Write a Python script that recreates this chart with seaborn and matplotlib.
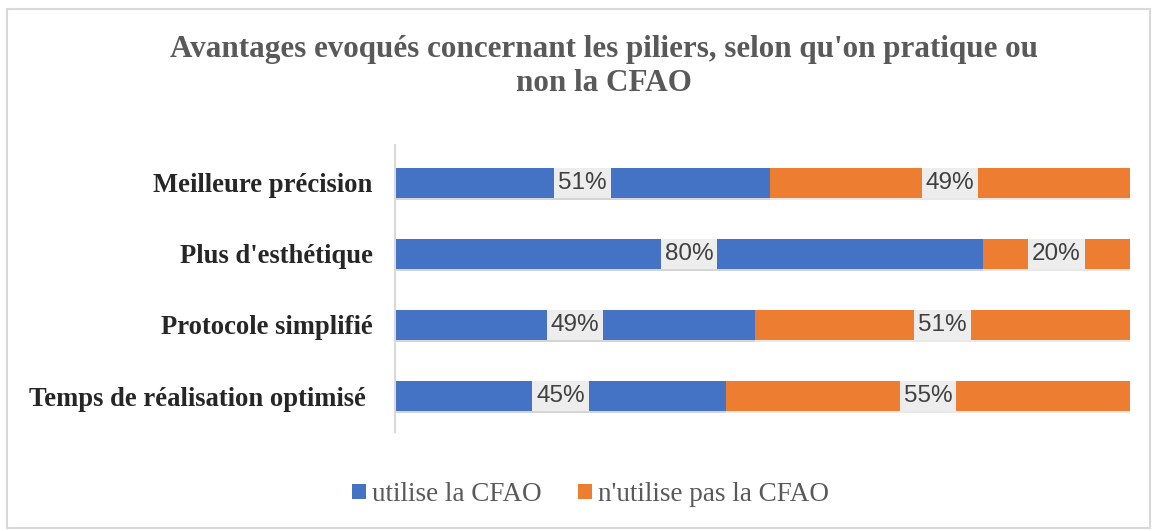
import matplotlib
matplotlib.use("Agg")
import matplotlib.pyplot as plt
import matplotlib.patheffects as pe
from matplotlib.patches import Rectangle, Patch
import seaborn as sns
import pandas as pd

categories = ["Meilleure précision", "Plus d'esthétique", "Protocole simplifié",
              "Temps de réalisation optimisé "]
utilise = [51, 80, 49, 45]
n_utilise_pas = [49, 20, 51, 55]
series_names = ["utilise la CFAO", "n'utilise pas la CFAO"]
title = "Avantages evoqués concernant les piliers, selon qu'on pratique ou\nnon la CFAO"

BLUE = "#4472C4"
ORANGE = "#ED7D31"

sns.set_theme(style="white")
plt.rcParams["font.family"] = ["Liberation Serif", "DejaVu Serif"]

df = pd.DataFrame({"cat": categories, "u": utilise, "n": n_utilise_pas})
df["total"] = df["u"] + df["n"]

fig = plt.figure(figsize=(11.56, 5.31), dpi=100)
ax = fig.add_axes([0.3417, 0.1864, 0.9775 - 0.3417, 0.727 - 0.1864])

shadow = [pe.SimplePatchShadow(offset=(0, -1.5), shadow_rgbFace="#8c8c8c", alpha=0.2), pe.Normal()]

sns.barplot(data=df, y="cat", x="total", color=ORANGE, orient="h", width=0.425,
            saturation=1, ax=ax, edgecolor="none")
sns.barplot(data=df, y="cat", x="u", color=BLUE, orient="h", width=0.425,
            saturation=1, ax=ax, edgecolor="none")
for p in ax.patches:
    p.set_path_effects(shadow)

for i, (u, n) in enumerate(zip(utilise, n_utilise_pas)):
    for x, v in ((u / 2, u), (u + n / 2, n)):
        ax.text(x, i, f"{v}%", ha="center", va="center", fontsize=17.5,
                family="Liberation Sans", color="#404040",
                bbox=dict(boxstyle="square,pad=0.16", facecolor="#EDEDED",
                          edgecolor="none"))

ax.set_xlim(0, 100)
ax.set_ylim(3.507, -0.535)
ax.set_xlabel("")
ax.set_ylabel("")
ax.set_xticks([])
ax.tick_params(axis="y", length=0, pad=16)
for lab in ax.get_yticklabels():
    lab.set_fontweight("bold")
    lab.set_fontsize(19.2)
    lab.set_color("#262626")
for s in ["top", "right", "bottom"]:
    ax.spines[s].set_visible(False)
ax.spines["left"].set_color("#d9d9d9")
ax.spines["left"].set_linewidth(1.5)

fig.text(0.5225, 0.934, title, ha="center", va="top", fontsize=22.4,
         fontweight="bold", color="#595959", linespacing=1.24)

handles = [Patch(facecolor=BLUE, edgecolor="none"), Patch(facecolor=ORANGE, edgecolor="none")]
fig.legend(handles, series_names, loc="center", bbox_to_anchor=(0.511, 0.068),
           ncol=2, frameon=False, fontsize=19.5, handlelength=0.5, handleheight=0.5,
           handletextpad=0.25, columnspacing=1.33, labelcolor="#595959")

fig.patches.append(Rectangle((0.006, 0.005), 0.989, 0.978, transform=fig.transFigure,
                             fill=False, edgecolor="#d9d9d9", linewidth=1.5))

fig.savefig("out.png", dpi=100, facecolor="white")
